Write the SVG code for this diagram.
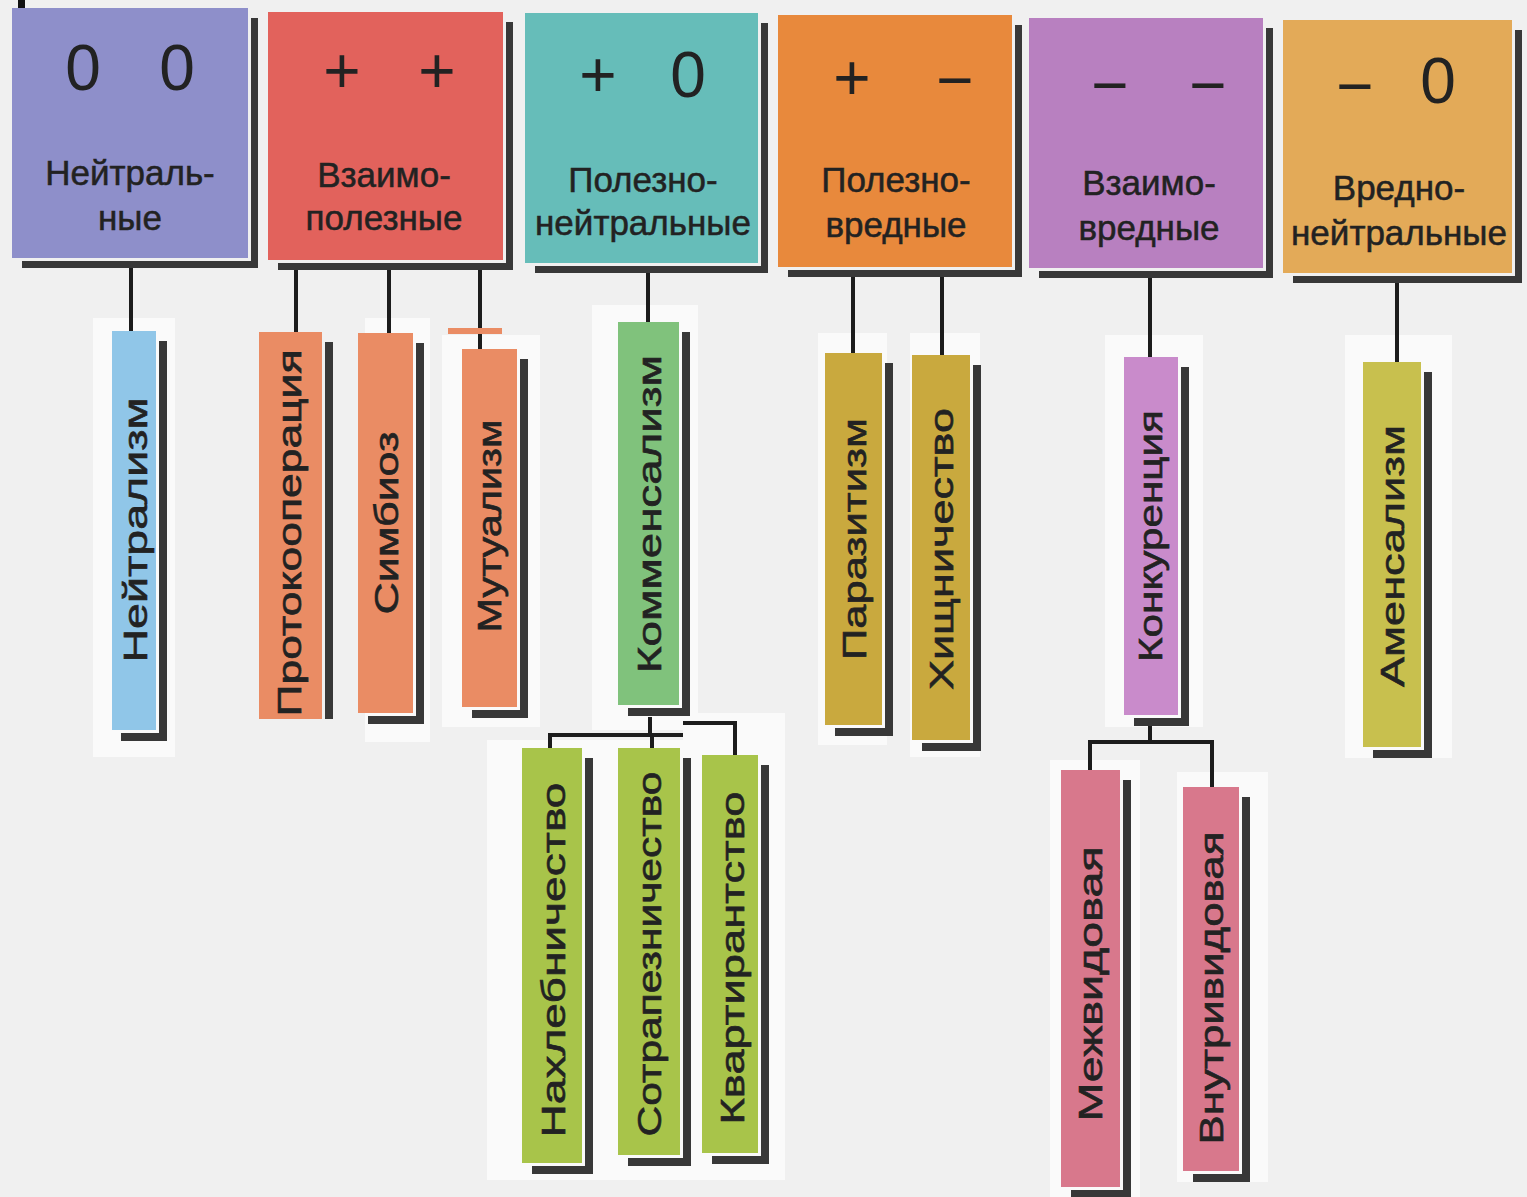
<svg xmlns="http://www.w3.org/2000/svg" width="1527" height="1197" viewBox="0 0 1527 1197">
<style>
text{font-family:"Liberation Sans",Arial,sans-serif;fill:#222}
.lbl{font-size:35px;text-anchor:middle;stroke:#222;stroke-width:0.5px}
.sym{font-size:64px;text-anchor:middle}
.vt{font-size:34px;stroke:#222;stroke-width:0.6px}
.sh{fill:#383838}
.patch{fill:#fafafa}
.ln{stroke:#1c1c1c;stroke-width:4;fill:none}
</style>
<rect width="1527" height="1197" fill="#f0f0f0"/>
<rect x="18" y="0" width="7" height="8" fill="#111"/>
<g id="patches">
<rect class="patch" x="93" y="318" width="82" height="439"/>
<rect class="patch" x="365" y="318" width="65" height="424"/>
<rect class="patch" x="442" y="335" width="98" height="392"/>
<rect class="patch" x="592" y="305" width="106" height="425"/>
<rect class="patch" x="818" y="333" width="69" height="412"/>
<rect class="patch" x="910" y="333" width="70" height="424"/>
<rect class="patch" x="1105" y="335" width="98" height="392"/>
<rect class="patch" x="1345" y="335" width="107" height="423"/>
<rect class="patch" x="487" y="740" width="298" height="440"/>
<rect class="patch" x="683" y="713" width="102" height="30"/>
<rect class="patch" x="1050" y="760" width="90" height="437"/>
<rect class="patch" x="1177" y="772" width="91" height="410"/>
</g>
<g id="connectors">
<path class="ln" d="M131,268V331"/>
<path class="ln" d="M296,270V332"/>
<path class="ln" d="M389,270V333"/>
<path class="ln" d="M480,270V349"/>
<path class="ln" d="M648,273V322"/>
<path class="ln" d="M853,277V353"/>
<path class="ln" d="M942,277V355"/>
<path class="ln" d="M1150,278V357"/>
<path class="ln" d="M1397,283V362"/>
<path class="ln" d="M650,717V735M550,748V735H683M652,735V748M683,723H735V755"/>
<path class="ln" d="M1150,725V742M1090,770V742H1212V787"/>
</g>
<g id="h1">
<rect class="sh" x="251" y="18" width="7" height="250"/><rect class="sh" x="22" y="261" width="236" height="7"/>
<rect x="12" y="8" width="236" height="250" fill="#8e8fca"/>
<text class="sym" x="83" y="90">0</text><text class="sym" x="177" y="90">0</text>
<text class="lbl" x="130" y="185">Нейтраль-</text><text class="lbl" x="130" y="230">ные</text>
</g>
<g id="h2">
<rect class="sh" x="506" y="22" width="7" height="248"/><rect class="sh" x="278" y="263" width="235" height="7"/>
<rect x="268" y="12" width="235" height="248" fill="#e2625c"/>
<text class="sym" x="342" y="93">+</text><text class="sym" x="437" y="93">+</text>
<text class="lbl" x="384" y="187">Взаимо-</text><text class="lbl" x="384" y="230">полезные</text>
</g>
<g id="h3">
<rect class="sh" x="761" y="23" width="7" height="250"/><rect class="sh" x="535" y="266" width="233" height="7"/>
<rect x="525" y="13" width="233" height="250" fill="#66bdb9"/>
<text class="sym" x="598" y="97">+</text><text class="sym" x="688" y="97">0</text>
<text class="lbl" x="643" y="192">Полезно-</text><text class="lbl" x="643" y="235">нейтральные</text>
</g>
<g id="h4">
<rect class="sh" x="1015" y="25" width="7" height="252"/><rect class="sh" x="788" y="270" width="234" height="7"/>
<rect x="778" y="15" width="234" height="252" fill="#e8893c"/>
<text class="sym" x="852" y="100">+</text><text class="sym" x="955" y="102">−</text>
<text class="lbl" x="896" y="192">Полезно-</text><text class="lbl" x="896" y="237">вредные</text>
</g>
<g id="h5">
<rect class="sh" x="1266" y="28" width="7" height="250"/><rect class="sh" x="1039" y="271" width="234" height="7"/>
<rect x="1029" y="18" width="234" height="250" fill="#b880c0"/>
<text class="sym" x="1110" y="107">−</text><text class="sym" x="1208" y="107">−</text>
<text class="lbl" x="1149" y="195">Взаимо-</text><text class="lbl" x="1149" y="240">вредные</text>
</g>
<g id="h6">
<rect class="sh" x="1515" y="30" width="7" height="253"/><rect class="sh" x="1293" y="276" width="229" height="7"/>
<rect x="1283" y="20" width="229" height="253" fill="#e3aa58"/>
<text class="sym" x="1355" y="108">−</text><text class="sym" x="1438" y="103">0</text>
<text class="lbl" x="1399" y="200">Вредно-</text><text class="lbl" x="1399" y="245">нейтральные</text>
</g>
<g id="neutralism">
<rect class="sh" x="159" y="341" width="8" height="399"/><rect class="sh" x="121" y="733" width="46" height="8"/>
<rect x="112" y="331" width="44" height="399" fill="#90c6e8"/>
<text class="vt" transform="translate(147,530) rotate(-90)" x="-132.5" textLength="265" lengthAdjust="spacingAndGlyphs">Нейтрализм</text>
</g>
<g id="protocooperation">
<rect class="sh" x="325" y="342" width="8" height="377"/>
<rect x="259" y="332" width="63" height="387" fill="#ea8c64"/>
<text class="vt" transform="translate(301,533) rotate(-90)" x="-183.5" textLength="367" lengthAdjust="spacingAndGlyphs">Протокооперация</text>
</g>
<g id="symbiosis">
<rect class="sh" x="416" y="343" width="8" height="380"/><rect class="sh" x="368" y="716" width="56" height="8"/>
<rect x="358" y="333" width="55" height="380" fill="#ea8c64"/>
<text class="vt" transform="translate(398,523) rotate(-90)" x="-91.5" textLength="183" lengthAdjust="spacingAndGlyphs">Симбиоз</text>
</g>
<g id="mutualism">
<rect x="448" y="328" width="54" height="6" fill="#ea8c64"/>
<rect class="sh" x="520" y="359" width="8" height="358"/><rect class="sh" x="472" y="710" width="56" height="8"/>
<rect x="462" y="349" width="55" height="358" fill="#ea8c64"/>
<text class="vt" transform="translate(501,526) rotate(-90)" x="-106.5" textLength="213" lengthAdjust="spacingAndGlyphs">Мутуализм</text>
</g>
<g id="commensalism">
<rect class="sh" x="682" y="332" width="8" height="383"/><rect class="sh" x="628" y="708" width="62" height="8"/>
<rect x="618" y="322" width="61" height="383" fill="#80c27c"/>
<text class="vt" transform="translate(661,514) rotate(-90)" x="-159" textLength="318" lengthAdjust="spacingAndGlyphs">Комменсализм</text>
</g>
<g id="parasitism">
<rect class="sh" x="885" y="363" width="8" height="372"/><rect class="sh" x="835" y="728" width="58" height="8"/>
<rect x="825" y="353" width="57" height="372" fill="#c9a93e"/>
<text class="vt" transform="translate(866,539) rotate(-90)" x="-121" textLength="242" lengthAdjust="spacingAndGlyphs">Паразитизм</text>
</g>
<g id="predation">
<rect class="sh" x="973" y="365" width="8" height="385"/><rect class="sh" x="922" y="743" width="59" height="8"/>
<rect x="912" y="355" width="58" height="385" fill="#c9a93e"/>
<text class="vt" transform="translate(953,549) rotate(-90)" x="-141" textLength="282" lengthAdjust="spacingAndGlyphs">Хищничество</text>
</g>
<g id="competition">
<rect class="sh" x="1181" y="367" width="8" height="358"/><rect class="sh" x="1134" y="718" width="55" height="8"/>
<rect x="1124" y="357" width="54" height="358" fill="#c98bcb"/>
<text class="vt" transform="translate(1162,536) rotate(-90)" x="-126" textLength="252" lengthAdjust="spacingAndGlyphs">Конкуренция</text>
</g>
<g id="amensalism">
<rect class="sh" x="1424" y="372" width="8" height="385"/><rect class="sh" x="1373" y="750" width="59" height="8"/>
<rect x="1363" y="362" width="58" height="385" fill="#c8c04e"/>
<text class="vt" transform="translate(1404,556) rotate(-90)" x="-131" textLength="262" lengthAdjust="spacingAndGlyphs">Аменсализм</text>
</g>
<g id="freeloading">
<rect class="sh" x="585" y="758" width="8" height="415"/><rect class="sh" x="532" y="1166" width="61" height="8"/>
<rect x="522" y="748" width="60" height="415" fill="#a8c44a"/>
<text class="vt" transform="translate(565,960) rotate(-90)" x="-177.5" textLength="355" lengthAdjust="spacingAndGlyphs">Нахлебничество</text>
</g>
<g id="commensal-feeding">
<rect class="sh" x="683" y="758" width="8" height="407"/><rect class="sh" x="628" y="1158" width="63" height="8"/>
<rect x="618" y="748" width="62" height="407" fill="#a8c44a"/>
<text class="vt" transform="translate(661,954) rotate(-90)" x="-182.5" textLength="365" lengthAdjust="spacingAndGlyphs">Сотрапезничество</text>
</g>
<g id="inquilinism">
<rect class="sh" x="761" y="765" width="8" height="398"/><rect class="sh" x="712" y="1156" width="57" height="8"/>
<rect x="702" y="755" width="56" height="398" fill="#a8c44a"/>
<text class="vt" transform="translate(744,958) rotate(-90)" x="-166.5" textLength="333" lengthAdjust="spacingAndGlyphs">Квартирантство</text>
</g>
<g id="interspecific">
<rect class="sh" x="1123" y="780" width="8" height="417"/><rect class="sh" x="1071" y="1190" width="60" height="7"/>
<rect x="1061" y="770" width="59" height="417" fill="#d8788c"/>
<text class="vt" transform="translate(1102,984) rotate(-90)" x="-137.5" textLength="275" lengthAdjust="spacingAndGlyphs">Межвидовая</text>
</g>
<g id="intraspecific">
<rect class="sh" x="1242" y="797" width="8" height="384"/><rect class="sh" x="1193" y="1174" width="57" height="8"/>
<rect x="1183" y="787" width="56" height="384" fill="#d8788c"/>
<text class="vt" transform="translate(1223,988) rotate(-90)" x="-156.5" textLength="313" lengthAdjust="spacingAndGlyphs">Внутривидовая</text>
</g>
</svg>
